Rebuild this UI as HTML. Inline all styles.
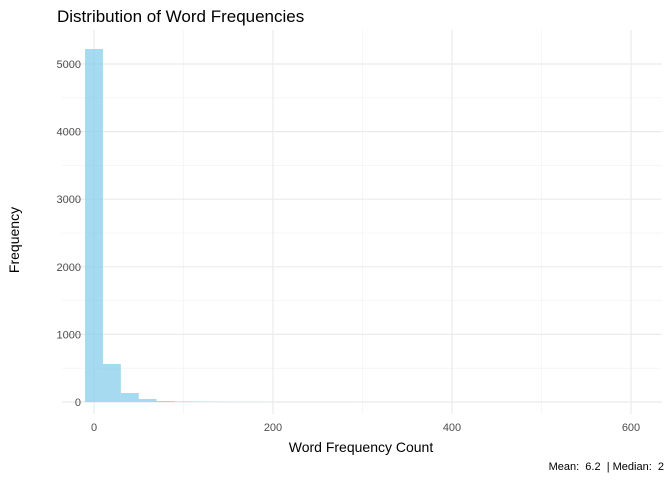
<!DOCTYPE html>
<html><head><meta charset="utf-8"><style>
body{margin:0;background:#fff;font-family:"Liberation Sans",Arial,sans-serif}
</style></head><body>
<svg id="chart" width="672" height="480" xmlns="http://www.w3.org/2000/svg">
<text x="57" y="22" font-size="17" fill="#000">Distribution of Word Frequencies</text>
<g id="grid"></g>
<g id="bars"></g>
<g id="axes"></g>
<text x="361" y="452" font-size="14" text-anchor="middle" fill="#000">Word Frequency Count</text>
<text transform="translate(19,240) rotate(-90)" font-size="14" text-anchor="middle" fill="#000">Frequency</text>
<text x="664" y="470" font-size="11" text-anchor="end" fill="#000" xml:space="preserve">Mean:  6.2  | Median:  2</text>
</svg>
<script>
const binStarts=[-10,10,30,50,70,90,110,130,150,170,190,210,230,250,270];
const counts=[5222,562,133,44,15,8,5,3,2,2,1,1,1,1,1];
const binWidth=20;
const xTicks=[0,200,400,600];
const xMinor=[100,300,500];
const yTicks=[0,1000,2000,3000,4000,5000];
const yMinor=[500,1500,2500,3500,4500];
const NS="http://www.w3.org/2000/svg";
const X=v=>94+v*0.895;
const Y=v=>402-v*0.0676;
const PL=62,PR=662,PT=30,PB=414;
const grid=document.getElementById('grid'),bars=document.getElementById('bars'),axes=document.getElementById('axes');
function line(p,x1,y1,x2,y2,w,c,name){const l=document.createElementNS(NS,'line');l.setAttribute('x1',x1);l.setAttribute('y1',y1);l.setAttribute('x2',x2);l.setAttribute('y2',y2);l.setAttribute('stroke',c);l.setAttribute('stroke-width',w);


p.appendChild(l);}
xMinor.forEach(v=>line(grid,X(v),PT,X(v),PB,0.6,'#f0f0f0','x-minor-gridline'));
yMinor.forEach(v=>line(grid,PL,Y(v),PR,Y(v),0.6,'#f0f0f0','y-minor-gridline'));
xTicks.forEach(v=>line(grid,X(v),PT,X(v),PB,1.2,'#ebebeb','x-major-gridline'));
yTicks.forEach(v=>line(grid,PL,Y(v),PR,Y(v),1.2,'#ebebeb','y-major-gridline'));
counts.forEach((c,i)=>{const r=document.createElementNS(NS,'rect');const x0=X(binStarts[i]),x1=X(binStarts[i]+binWidth);
r.setAttribute('x',x0);r.setAttribute('width',x1-x0);r.setAttribute('y',Y(c));r.setAttribute('height',Y(0)-Y(c));r.setAttribute('fill','#87ceeb');r.setAttribute('fill-opacity','0.75');


bars.appendChild(r);});
function txt(x,y,s,anchor,name){const t=document.createElementNS(NS,'text');t.setAttribute('x',x);t.setAttribute('y',y);t.setAttribute('font-size','11');t.setAttribute('fill','#4d4d4d');t.setAttribute('text-anchor',anchor);t.textContent=s;


axes.appendChild(t);}
xTicks.forEach(v=>txt(X(v),431,String(v),'middle','x-tick-label'));
yTicks.forEach(v=>txt(81,Y(v)+4,String(v),'end','y-tick-label'));
</script>
</body></html>
